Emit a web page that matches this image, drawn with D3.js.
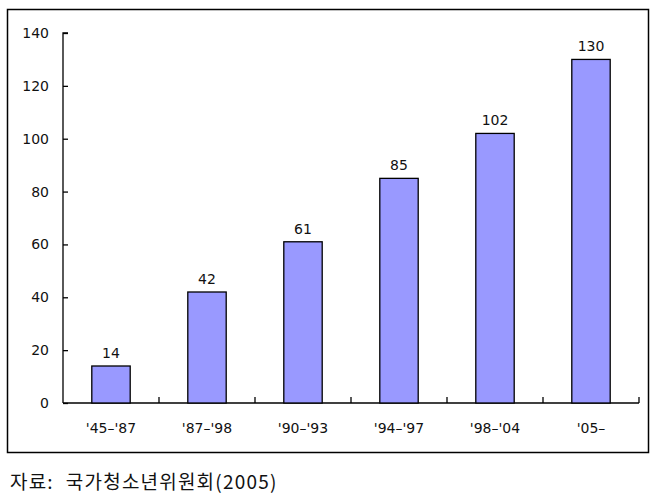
<!DOCTYPE html>
<html>
<head>
<meta charset="utf-8">
<script src="https://cdn.jsdelivr.net/npm/d3@7"></script>
<style>
  body { margin: 0; background: #fff; }
  svg text { font-family: "DejaVu Sans", "Liberation Sans", Arial, sans-serif; fill: #111; }
</style>
</head>
<body>
<div id="chart"></div>
<script>
// chart data
const periods = ["'45\u2013'87", "'87\u2013'98", "'90\u2013'93", "'94\u2013'97", "'98\u2013'04", "'05\u2013"];
const counts = [14, 42, 61, 85, 102, 130];
const yTicks = [0, 20, 40, 60, 80, 100, 120, 140];
const sourceLabel = '자료:';
const sourceNote = '국가청소년위원회(2005)';

const W = 665, H = 498;
const plot = { left: 63, right: 639, top: 33, bottom: 403 };

const svg = d3.select('#chart')
    .append('svg')
    .attr('width', W)
    .attr('height', H);

// outer frame
svg.append('rect')
    .attr('x', 7.5).attr('y', 9.5)
    .attr('width', 641).attr('height', 443)
    .attr('fill', 'none')
    .attr('stroke', '#000')
    .attr('stroke-width', 1.5);

const x = d3.scaleBand()
    .domain(periods)
    .range([plot.left, plot.right])
    .paddingInner(0.6)
    .paddingOuter(0.3);

const y = d3.scaleLinear()
    .domain([0, 140])
    .range([plot.bottom, plot.top]);

// y axis, ticks point into the plot
const yAxis = svg.append('g')
    .attr('transform', `translate(${plot.left},0)`)
    .call(d3.axisRight(y).tickValues(yTicks).tickSize(5).tickFormat(''));
yAxis.select('.domain').attr('d', `M5,${plot.top}H0V${plot.bottom}`).attr('stroke-width', 1.3);
yAxis.selectAll('.tick line').attr('stroke-width', 1.3);

svg.append('g').selectAll('text')
    .data(yTicks)
    .enter()
    .append('text')
    .attr('x', 49)
    .attr('y', d => y(d))
    .attr('dy', '0.36em')
    .attr('text-anchor', 'end')
    .style('font-size', '14px')
    .text(d => d);

// x axis with boundary ticks pointing up
const boundaries = d3.range(periods.length + 1).map(i => plot.left + i * (plot.right - plot.left) / periods.length);
svg.append('line')
    .attr('x1', plot.left).attr('x2', plot.right)
    .attr('y1', plot.bottom).attr('y2', plot.bottom)
    .attr('stroke', '#000').attr('stroke-width', 1.3);
svg.selectAll('.xtick')
    .data(boundaries.slice(1))
    .enter()
    .append('line')
    .attr('class', 'xtick')
    .attr('x1', d => d).attr('x2', d => d)
    .attr('y1', plot.bottom).attr('y2', plot.bottom - 6)
    .attr('stroke', '#000').attr('stroke-width', 1.3);

svg.selectAll('.xlabel')
    .data(periods)
    .enter()
    .append('text')
    .attr('class', 'xlabel')
    .attr('x', d => x(d) + x.bandwidth() / 2)
    .attr('y', 428)
    .attr('dy', '0.36em')
    .attr('text-anchor', 'middle')
    .style('font-size', '14px')
    .text(d => d);

// bars
svg.selectAll('.bar')
    .data(counts)
    .enter()
    .append('rect')
    .attr('class', 'bar')
    .attr('x', (d, i) => x(periods[i]))
    .attr('y', d => y(d))
    .attr('width', x.bandwidth())
    .attr('height', d => y(0) - y(d))
    .attr('fill', '#9999ff')
    .attr('stroke', '#000')
    .attr('stroke-width', 1.3);

// value labels
svg.selectAll('.val')
    .data(counts)
    .enter()
    .append('text')
    .attr('class', 'val')
    .attr('x', (d, i) => x(periods[i]) + x.bandwidth() / 2)
    .attr('y', d => y(d) - 13)
    .attr('dy', '0.36em')
    .attr('text-anchor', 'middle')
    .style('font-size', '14px')
    .text(d => d);

// source note
const note = svg.append('text')
    .attr('x', 10)
    .attr('y', 482)
    .attr('dy', '0.36em')
    .style('font-family', '"Noto Sans CJK KR", sans-serif')
    .style('font-size', '19px')
    .style('letter-spacing', '1.2px');
note.append('tspan').text(sourceLabel);
note.append('tspan').attr('dx', 12).text(sourceNote);
</script>
</body>
</html>
